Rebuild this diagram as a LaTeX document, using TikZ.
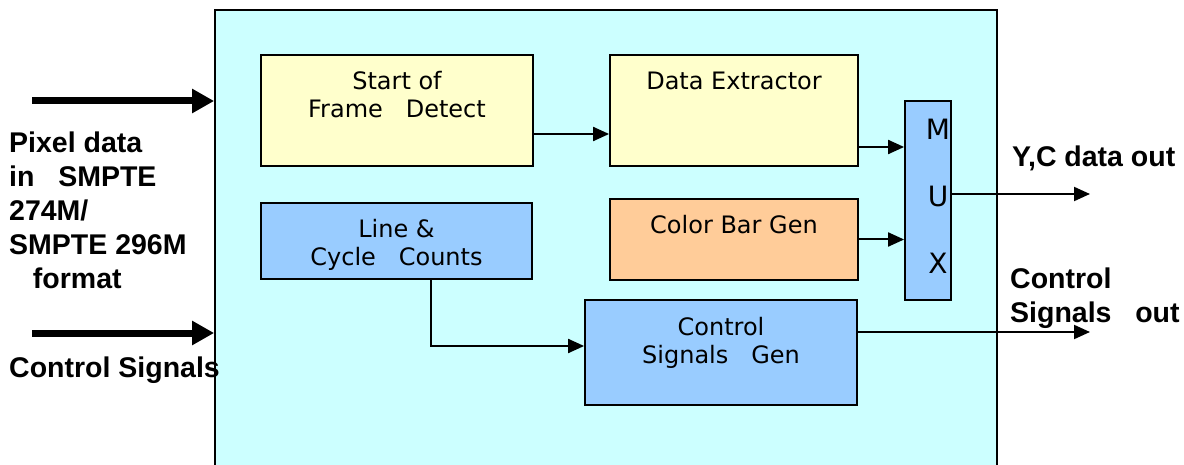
\documentclass[tikz,border=0pt]{standalone}
\usepackage{fontspec}
\setmainfont{DejaVu Sans}
\newfontfamily\labfont{Liberation Sans}
\usetikzlibrary{positioning,calc,arrows.meta}
\definecolor{chipC}{HTML}{CCFFFF}
\definecolor{yellowC}{HTML}{FFFFCC}
\definecolor{blueC}{HTML}{99CCFF}
\definecolor{orangeC}{HTML}{FFCC99}

\begin{document}
\begin{tikzpicture}
  [x=1pt,y=-1pt,
   blockN/.style={draw,line width=1.8pt,inner sep=0pt},
   textN/.style={anchor=base,align=center,font=\fontsize{24}{28}\selectfont},
   outN/.style={anchor=base west,align=left,inner sep=0pt,font=\labfont\bfseries\fontsize{28.5}{34}\selectfont},
   thinA/.style={line width=2pt,-{Triangle[length=16pt,width=14pt]}},
   thickA/.style={line width=7pt,-{Triangle[length=22pt,width=23pt]}}]

  \useasboundingbox (0,0) rectangle (1184,465);

  % outer block
  \node[blockN,fill=chipC,minimum width=782pt,minimum height=460pt] (chip) at (606,240) {};

  % inner blocks
  \node[blockN,fill=yellowC,minimum width=272pt,minimum height=111pt] (sof) at (397,110.5) {};
  \node[blockN,fill=yellowC,minimum width=248pt,minimum height=111pt] (de)  at (734,110.5) {};
  \node[blockN,fill=blueC,minimum width=46pt,minimum height=199pt]    (mux) at (928,200.5) {};
  \node[blockN,fill=blueC,minimum width=271pt,minimum height=76pt]    (lcc) at (396.5,241) {};
  \node[blockN,fill=orangeC,minimum width=248pt,minimum height=81pt]  (cbg) at (734,239.5) {};
  \node[blockN,fill=blueC,minimum width=272pt,minimum height=105pt]   (csg) at (721,352.5) {};

  % base = last line
  \node[textN] (sofT) at ($(sof.north)+(0,63)$) {Start of\\Frame\ \ \ Detect};
  \node[textN] (deT)  at ($(de.north)+(0,35)$)  {Data Extractor};
  \node[textN] (lccT) at ($(lcc.north)+(0,63)$) {Line \&\\Cycle\ \ \ Counts};
  \node[textN] (cbgT) at ($(cbg.north)+(0,35)$) {Color Bar Gen};
  \node[textN] (csgT) at ($(csg.north)+(0,64)$) {Control\\Signals\ \ \ Gen};
  \node[anchor=base,align=center,font=\fontsize{28}{67}\selectfont] (muxT)
    at ($(mux.north)+(10,173)$) {M\\U\\X};

  % connections
  \coordinate (sofOut) at ($(sof.east)+(0,23.5)$);
  \coordinate (deOut)  at ($(de.east)+(0,36.5)$);
  \coordinate (lccOut) at ($(lcc.south)+(34.5,0)$);
  \coordinate (csgIn)  at ($(csg.west)+(0,-6.5)$);
  \coordinate (ycOut)  at (1090,194);
  \coordinate (csOut)  at (1090,332);
  \coordinate (pixIn)  at (32,101);
  \coordinate (ctlIn)  at (32,333);

  \draw[thinA] (sofOut) -- (sofOut -| de.west);
  \draw[thinA] (deOut) -- (deOut -| mux.west);
  \draw[thinA] (cbg.east) -- (cbg.east -| mux.west);
  \draw[thinA] (mux.east |- ycOut) -- (ycOut);
  \draw[thinA] (csg.east |- csOut) -- (csOut);
  \draw[thinA] (lccOut) |- (csgIn);

  \draw[thickA] (pixIn) -- (pixIn -| chip.west);
  \draw[thickA] (ctlIn) -- (ctlIn -| chip.west);

  % labels
  \node[outN] (pixL) at (9,288) {Pixel data\\in\ \ \ SMPTE\\274M/\\SMPTE 296M\\\ \ \ format};
  \node[outN] (ctlL) at (9,377) {Control Signals};
  \node[outN] (ycL)  at (1012,167) {Y,C data out};
  \node[outN] (csL)  at (1010,323) {Control\\Signals\ \ \ out};
\end{tikzpicture}
\end{document}
